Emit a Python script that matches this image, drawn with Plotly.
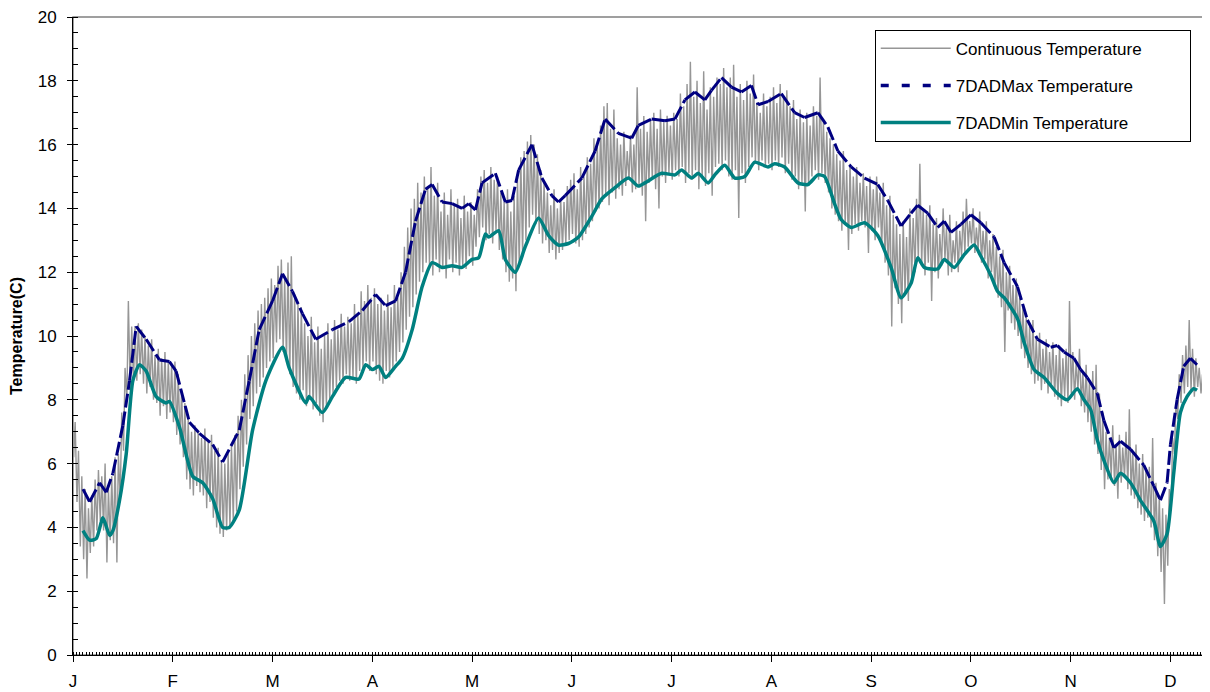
import plotly.graph_objects as go


MONTH_LABELS = ["J", "F", "M", "A", "M", "J", "J", "A", "S", "O", "N", "D"]
DAYS_PER_LABEL = 30

# daily max / min of the continuous record (deg C), day 0 .. 341
DAILY_HI = [
    7.3, 6.4, 5.6, 5.2, 4.6, 5.0, 5.5, 5.8, 5.6, 6.0,
    5.2, 5.6, 6.2, 6.3, 7.6, 9.0, 11.1, 10.3, 10.3, 10.4,
    10.2, 10.0, 9.7, 9.9, 9.4, 9.6, 9.3, 9.5, 9.2, 9.1,
    9.2, 8.8, 8.3, 7.9, 7.4, 7.0, 7.2, 7.0, 6.8, 7.1,
    6.7, 6.9, 6.4, 6.5, 6.1, 6.0, 6.3, 6.6, 6.9, 7.5,
    8.0, 8.8, 9.4, 10.0, 10.4, 10.8, 11.0, 11.2, 11.5, 11.8,
    11.6, 12.2, 12.4, 11.8, 12.3, 12.5, 11.3, 11.0, 10.9, 10.4,
    10.0, 10.6, 9.8, 10.3, 9.6, 10.0, 10.4, 9.9, 10.5, 10.2,
    10.7, 10.3, 10.6, 10.4, 11.0, 10.7, 11.4, 11.1, 11.6, 11.2,
    11.5, 11.0, 11.2, 10.8, 11.3, 10.9, 11.6, 11.2, 12.0, 12.8,
    13.4, 14.0, 14.3, 14.8, 14.5, 15.0, 14.7, 15.3, 14.4, 14.8,
    13.9, 14.5, 13.8, 14.6, 14.1, 14.3, 13.7, 14.4, 13.9, 14.2,
    13.8, 14.6, 15.0, 15.2, 14.8, 15.3, 14.9, 15.0, 14.5, 14.2,
    14.6, 13.9, 14.4, 15.0, 15.6, 15.8, 16.1, 16.3, 16.0, 15.7,
    15.2, 14.8, 14.5, 14.1, 14.6, 14.0, 14.3, 14.2, 14.7, 14.9,
    15.1, 14.6, 15.3, 15.0, 15.6, 15.4, 16.2, 16.0, 16.6, 17.2,
    17.3, 16.5, 17.1, 16.2, 16.0, 16.4, 15.8, 16.3, 16.0, 17.8,
    16.5, 16.9, 16.4, 16.8, 17.0, 16.5, 17.1, 16.7, 16.9, 16.6,
    17.0, 16.8, 17.6, 17.2, 17.9, 18.6, 17.5, 18.0, 17.3, 18.3,
    17.1, 17.8, 17.5, 18.1, 17.9, 18.4, 17.8, 18.1, 18.5, 17.5,
    17.9, 17.4, 18.0, 17.6, 18.2, 17.3, 17.0, 17.6, 17.2, 17.5,
    17.8, 17.3, 17.9, 17.5, 17.7, 17.2, 17.4, 16.8, 17.1, 16.7,
    17.0, 16.6, 17.2, 16.9, 18.1, 16.7, 16.4, 16.2, 16.0, 15.7,
    15.5, 15.8, 15.2, 15.4, 15.0, 15.3, 14.8, 15.1, 14.7, 15.0,
    14.6, 15.0, 14.5, 14.8, 14.1, 14.4, 13.8, 13.5, 13.2, 13.6,
    13.1, 14.0, 13.7, 14.3, 15.4, 14.0, 13.8, 14.1, 13.5, 13.7,
    13.2, 14.0, 13.4, 13.8, 13.0, 13.6, 13.3, 13.9, 14.3, 13.6,
    14.0, 13.4, 13.9, 13.3, 13.6, 13.0, 13.2, 12.8, 12.5, 12.7,
    12.0, 12.2, 11.6, 11.8, 11.2, 10.9, 10.6, 10.3, 10.5, 9.9,
    10.1, 9.6, 9.9, 9.5, 9.8, 9.4, 9.7, 9.3, 9.6, 11.1,
    9.5, 9.2, 9.6, 8.9, 9.1, 8.6, 8.9, 9.1, 8.2, 7.6,
    7.0, 6.8, 7.2, 6.6, 6.9, 6.5, 7.0, 7.7, 6.4, 6.6,
    6.0, 6.3, 5.8, 5.9, 6.8, 5.4, 5.0, 4.6, 4.4, 5.2,
    6.8, 7.9, 8.8, 9.4, 9.7, 10.5, 9.6, 9.3, 9.0, 8.8,
    8.6, 8.4,
]
DAILY_LO = [
    6.2, 4.8, 3.4, 3.0, 2.4, 3.2, 3.4, 3.9, 4.2, 3.9,
    2.9, 3.6, 3.5, 2.9, 4.9, 6.4, 8.0, 8.3, 8.6, 8.6,
    8.8, 8.5, 8.2, 8.4, 8.0, 7.9, 7.5, 7.8, 7.4, 7.6,
    7.3, 6.9, 6.6, 6.2, 5.5, 5.2, 5.0, 5.3, 5.1, 5.0,
    4.6, 4.8, 4.3, 4.0, 3.8, 3.7, 3.9, 4.0, 4.2, 4.5,
    5.2, 5.9, 6.6, 7.4, 7.8, 8.2, 8.4, 8.7, 9.0, 9.2,
    9.3, 9.8, 9.9, 9.5, 9.2, 8.8, 8.4, 8.2, 8.0, 8.3,
    7.8, 8.1, 7.7, 7.9, 7.5, 7.3, 7.8, 8.0, 8.2, 8.4,
    8.6, 8.5, 8.8, 8.6, 8.7, 8.5, 8.9, 9.0, 9.2, 8.9,
    9.2, 8.8, 8.6, 8.5, 8.9, 8.7, 9.0, 9.2, 9.5, 9.8,
    10.2, 10.6, 10.9, 11.3, 11.7, 12.0, 12.3, 12.2, 11.9, 12.4,
    12.0, 12.1, 11.8, 12.4, 12.0, 12.3, 11.9, 12.2, 12.1, 12.5,
    12.2, 12.8, 13.1, 13.4, 13.0, 13.2, 12.9, 13.3, 12.7, 12.4,
    12.0, 11.7, 11.8, 11.4, 12.2, 12.5, 13.0, 13.4, 13.8, 13.5,
    13.2, 12.9, 13.0, 12.6, 12.7, 12.4, 12.6, 12.7, 12.9, 13.0,
    13.2, 12.9, 12.8, 13.0, 13.2, 13.4, 13.6, 13.9, 14.0, 14.2,
    14.4, 14.1, 14.5, 14.3, 14.6, 14.4, 14.7, 14.9, 14.5, 14.6,
    14.7, 14.4, 13.6, 14.8, 14.9, 14.6, 14.0, 15.0, 14.8, 15.1,
    14.9, 15.2, 15.0, 15.3, 14.8, 15.1, 14.9, 15.2, 14.6, 15.0,
    14.7, 15.1, 14.4, 15.3, 15.4, 15.2, 15.5, 15.0, 14.9, 15.2,
    13.7, 15.1, 14.8, 15.3, 15.6, 15.4, 15.2, 15.5, 15.3, 15.4,
    15.2, 15.5, 15.3, 15.6, 15.1, 15.4, 14.9, 15.0, 14.6, 14.8,
    13.9, 14.7, 15.0, 15.2, 14.9, 15.1, 14.8, 14.5, 14.0, 13.8,
    13.6, 13.3, 13.5, 12.7, 13.2, 13.5, 13.3, 13.6, 13.4, 12.6,
    13.3, 13.0, 13.4, 12.8, 12.3, 11.9, 10.3, 11.5, 11.0, 10.4,
    11.3, 11.1, 11.8, 12.0, 12.4, 12.2, 11.9, 12.3, 11.1, 12.0,
    11.8, 12.2, 12.4, 11.9, 12.0, 12.3, 12.0, 12.5, 12.6, 12.8,
    12.9, 12.6, 12.7, 12.3, 12.4, 11.8, 12.0, 11.5, 11.2, 10.9,
    9.5, 10.8, 10.4, 10.2, 10.0, 9.6, 9.3, 9.0, 8.8, 8.5,
    8.6, 8.3, 8.5, 8.2, 8.4, 8.1, 8.0, 7.8, 8.1, 7.9,
    8.2, 8.0, 8.3, 7.8, 7.6, 7.3, 7.0, 6.6, 6.3, 5.8,
    5.2, 5.5, 5.6, 5.3, 4.9, 5.4, 5.6, 5.2, 5.0, 4.9,
    4.6, 4.4, 4.2, 4.3, 4.0, 3.6, 3.1, 2.6, 1.6, 2.8,
    4.6, 6.3, 7.4, 7.9, 8.2, 8.4, 8.3, 8.1, 8.4, 8.2,
    7.9, 7.9,
]

# 7-day average of daily maximum
MAX_DAYS = [3, 5, 8, 10, 12, 15, 17, 19, 22, 26, 29, 31, 35, 38, 42, 45, 50, 53, 56, 60,
            63, 66, 69, 73, 78, 83, 87, 91, 94, 97, 100, 103, 106, 108, 111, 114, 117, 119, 121, 123,
            127, 130, 132, 134, 138, 141, 144, 146, 148, 153, 157, 160, 164, 168, 170, 174, 178, 181, 184, 187,
            190, 192, 195, 198, 201, 204, 206, 209, 213, 217, 220, 224, 227, 230, 234, 238, 242, 245, 249, 252,
            254, 257, 260, 262, 264, 267, 270, 273, 277, 280, 284, 287, 290, 294, 296, 298, 301, 303, 305, 308,
            310, 313, 315, 318, 322, 325, 327, 329, 330, 332, 334, 336, 338]
MAX_7DAD = [5.2, 4.8, 5.4, 5.1, 5.7, 7.2, 8.6, 10.3, 9.9, 9.25, 9.2, 8.9, 7.3, 6.95, 6.6, 6.05, 7.05, 8.6, 10.2, 11.1,
            11.95, 11.4, 10.7, 9.9, 10.2, 10.45, 10.8, 11.3, 10.95, 11.1, 12.0, 13.6, 14.6, 14.75, 14.2, 14.15, 14.0, 14.15, 13.95, 14.8,
            15.1, 14.2, 14.25, 15.2, 16.0, 14.95, 14.4, 14.2, 14.4, 14.95, 15.8, 16.8, 16.35, 16.2, 16.6, 16.8, 16.75, 16.8, 17.4, 17.65,
            17.4, 17.7, 18.1, 17.8, 17.65, 17.85, 17.25, 17.35, 17.6, 17.0, 16.85, 17.0, 16.55, 15.8, 15.3, 14.95, 14.75, 14.25, 13.45, 13.85,
            14.1, 13.85, 13.4, 13.6, 13.25, 13.5, 13.8, 13.55, 13.1, 12.3, 11.55, 10.5, 9.9, 9.65, 9.7, 9.5, 9.3, 8.95, 8.7, 8.2,
            7.35, 6.5, 6.7, 6.45, 5.95, 5.3, 4.85, 5.4, 6.6, 8.0, 9.05, 9.3, 9.1]

# 7-day average of daily minimum
MIN_DAYS = [3, 5, 7, 9, 11, 12, 14, 16, 18, 20, 22, 25, 28, 29, 32, 36, 39, 42, 45, 47,
            50, 54, 58, 63, 65, 70, 71, 75, 78, 82, 86, 88, 90, 92, 94, 97, 99, 102, 105, 108,
            111, 114, 117, 120, 122, 124, 125, 128, 130, 133, 136, 140, 143, 146, 149, 152, 156, 159, 163, 167,
            170, 172, 177, 181, 183, 186, 188, 191, 193, 196, 199, 202, 205, 209, 211, 214, 218, 221, 224, 226,
            229, 231, 234, 238, 242, 246, 249, 252, 254, 256, 260, 262, 265, 268, 271, 273, 276, 278, 280, 284,
            286, 289, 292, 296, 299, 302, 304, 306, 308, 310, 313, 315, 318, 321, 325, 327, 329, 331, 333, 335,
            337, 338]
MIN_7DAD = [3.9, 3.6, 3.65, 4.3, 3.75, 3.9, 4.85, 6.3, 8.6, 9.1, 8.9, 8.1, 7.9, 7.95, 7.15, 5.6, 5.4, 4.9, 4.0, 4.0,
            4.55, 7.05, 8.6, 9.65, 9.0, 7.9, 8.1, 7.6, 8.1, 8.7, 8.65, 9.1, 8.95, 9.05, 8.7, 9.05, 9.3, 10.2, 11.55, 12.3,
            12.15, 12.2, 12.15, 12.4, 12.45, 13.2, 13.1, 13.3, 12.4, 12.0, 12.8, 13.7, 13.15, 12.85, 12.9, 13.1, 13.75, 14.3, 14.65, 14.95,
            14.7, 14.8, 15.1, 15.05, 15.2, 14.95, 15.1, 14.8, 15.05, 15.35, 14.95, 15.0, 15.45, 15.3, 15.4, 15.3, 14.8, 14.75, 15.05, 15.0,
            14.15, 13.65, 13.4, 13.55, 13.15, 12.15, 11.2, 11.65, 12.45, 12.15, 12.1, 12.4, 12.15, 12.55, 12.85, 12.5, 11.9, 11.4, 11.2, 10.55,
            9.8, 8.95, 8.7, 8.2, 8.0, 8.35, 8.0, 7.7, 6.75, 6.1, 5.4, 5.7, 5.4, 4.85, 4.2, 3.4, 3.8, 5.7, 7.6, 8.1,
            8.35, 8.3]

FONT = "Arial, Liberation Sans, sans-serif"
GRAY = "rgb(150,150,150)"
NAVY = "#000080"
TEAL = "#008080"

# continuous record: one low (early morning) and one high (afternoon) per day
cont_x, cont_y = [], []
for day, (lo, hi) in enumerate(zip(DAILY_LO, DAILY_HI)):
    cont_x += [day + 0.2, day + 0.65]
    cont_y += [lo, hi]

# 7DADMax drawn as separate segments so the dash restarts on every segment
max_x, max_y = [], []
for i in range(len(MAX_DAYS) - 1):
    max_x += [MAX_DAYS[i], MAX_DAYS[i + 1], None]
    max_y += [MAX_7DAD[i], MAX_7DAD[i + 1], None]

fig = go.Figure()

fig.add_trace(go.Scatter(
    x=cont_x, y=cont_y, mode="lines",
    name="Continuous Temperature" + "\u00a0" * 9,
    line=dict(color=GRAY, width=1.4),
    legendgroup="a",
))
fig.add_trace(go.Scatter(
    x=max_x, y=max_y, mode="lines", name="7DADMax Temperature",
    line=dict(color=NAVY, width=3, dash="14px,4px"),
    connectgaps=False, legendgroup="b", showlegend=False,
))
# legend entry for the dashed series
fig.add_trace(go.Scatter(
    x=[None], y=[None], mode="lines", name="7DADMax Temperature",
    line=dict(color=NAVY, width=3.5, dash="8px,13px"),
    legendgroup="b",
))
fig.add_trace(go.Scatter(
    x=MIN_DAYS, y=MIN_7DAD, mode="lines", name="7DADMin Temperature",
    line=dict(color=TEAL, width=3.5, shape="spline", smoothing=0.6),
    legendgroup="c",
))

fig.update_xaxes(
    range=[0, 341], tickmode="linear", tick0=0, dtick=DAYS_PER_LABEL,
    labelalias={str(i * DAYS_PER_LABEL): m for i, m in enumerate(MONTH_LABELS)},
    ticks="outside", ticklen=6, tickcolor="black", ticklabelstandoff=5,
    minor=dict(dtick=1, tick0=0, ticks="inside", ticklen=3, tickcolor="black", showgrid=False),
    showline=True, linecolor="black", linewidth=1,
    showgrid=False, zeroline=False, ticklabeloverflow="allow", automargin=False,
    tickfont=dict(family=FONT, size=17, color="black"),
)
fig.update_yaxes(
    range=[0, 20], dtick=2,
    ticks="outside", ticklen=5, tickcolor="black", ticklabelstandoff=7,
    minor=dict(dtick=0.5, ticks="inside", ticklen=5, tickcolor="black", showgrid=False),
    showline=True, linecolor="black", linewidth=1,
    showgrid=False, zeroline=False, ticklabeloverflow="allow", automargin=False,
    tickfont=dict(family=FONT, size=17, color="black"),
    title=dict(text="<b>Temperature(C)</b>", font=dict(family=FONT, size=16, color="black"),
               standoff=12),
)

# light frame on the top and right of the plot area
fig.add_shape(type="rect", xref="paper", yref="paper", x0=0, y0=0, x1=1, y1=1,
              line=dict(color="rgb(128,128,128)", width=1.5), layer="below")

# the page body adds an 8px offset, so the figure is 8px smaller than the window
fig.update_layout(
    width=1202, height=684,
    margin=dict(l=65, r=3, t=9, b=37),
    plot_bgcolor="white", paper_bgcolor="white",
    font=dict(family=FONT, color="black"),
    legend=dict(
        x=0.707, y=0.98, xanchor="left", yanchor="top",
        bgcolor="white", bordercolor="black", borderwidth=1,
        font=dict(family=FONT, size=17, color="black"),
        itemwidth=70, tracegroupgap=12,
    ),
)

fig.write_html("out.html")
